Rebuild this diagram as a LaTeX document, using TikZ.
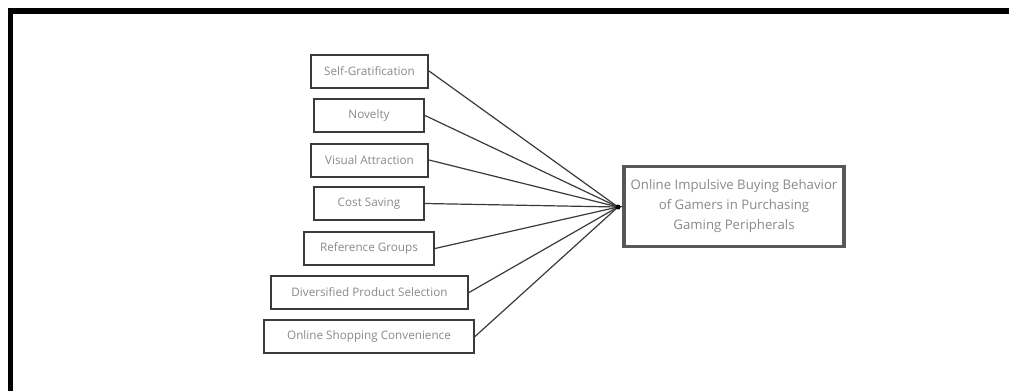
\documentclass[tikz,border=0pt]{standalone}
\usepackage{fontspec}
\setmainfont{Open Sans}
\definecolor{boxline}{HTML}{3A3A3A}
\definecolor{txt}{HTML}{8A8A8A}
\begin{document}
\begin{tikzpicture}[x=1pt,y=-1pt,
  factor/.style={draw=boxline,line width=2pt,fill=white,inner sep=0pt,
    minimum height=33pt,text=txt,font=\fontsize{11.7}{13}\selectfont},
  mainbox/.style={draw=boxline!85,line width=3.5pt,fill=white,inner sep=0pt,
    minimum width=220pt,minimum height=80pt,text=txt,align=center,
    font=\fontsize{13.2}{20}\selectfont},
  conn/.style={draw=boxline,line width=1.2pt}]
\useasboundingbox (0,0) rectangle (1009,391);
\fill[white] (0,0) rectangle (1009,391);
\draw[line width=5.5pt,black] (10.5,391) -- (10.5,11) -- (1009,11);
\node[factor,minimum width=117pt] (f1) at (369.5,71) {Self-Gratification};
\node[factor,minimum width=110pt] (f2) at (369,115.5) {Novelty};
\node[factor,minimum width=117pt] (f3) at (369.5,160) {Visual Attraction};
\node[factor,minimum width=110pt] (f4) at (369,203.5) {Cost Saving};
\node[factor,minimum width=130pt] (f5) at (369,248.5) {Reference Groups};
\node[factor,minimum width=197pt] (f6) at (369.5,292.5) {Diversified Product Selection};
\node[factor,minimum width=210pt] (f7) at (369,336.5) {Online Shopping Convenience};
\node[mainbox] (m) at (734,206.5) {Online Impulsive Buying Behavior\\of Gamers in Purchasing\\Gaming Peripherals};
\coordinate (hub) at (618,207);
\foreach \i in {1,...,7} {\draw[conn] (f\i.east) -- (hub);}
\draw[conn] (hub) -- (m.west);
\fill[black] (hub) circle (2.5pt);
\end{tikzpicture}
\end{document}
